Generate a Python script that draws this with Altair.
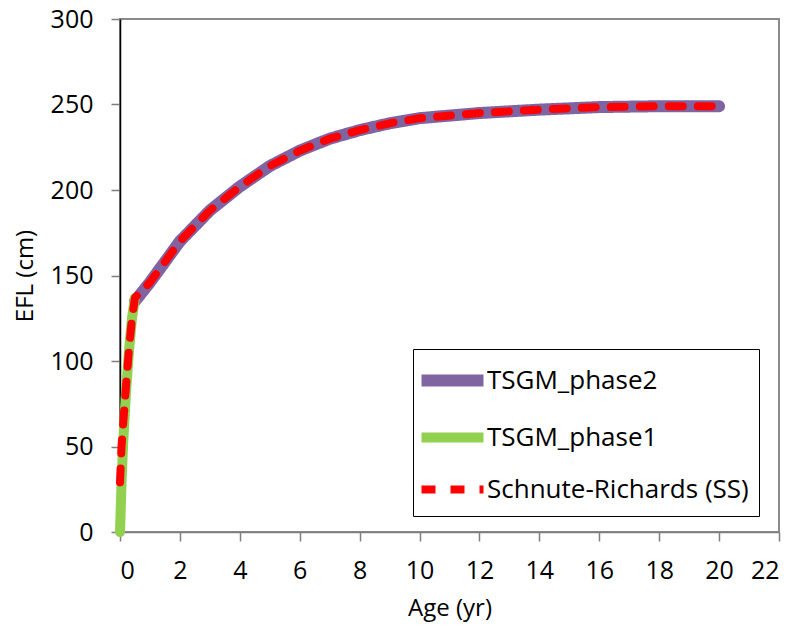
import altair as alt
import pandas as pd

# ---- data ----
series_names = ["TSGM_phase2", "TSGM_phase1", "Schnute-Richards (SS)"]

phase2_age = [0.5, 1, 1.5, 2, 3, 4, 5, 6, 7, 8, 9, 10, 12, 14, 16, 18, 20]
phase2_efl = [135, 146, 158, 170, 188, 202, 214, 223, 230, 235, 239, 242, 245, 247, 248.5, 249, 249]

phase1_age = [0, 0.05, 0.1, 0.2, 0.3, 0.4, 0.5]
phase1_efl = [0, 28, 50, 82, 106, 125, 137]

ss_age = [0, 0.05, 0.1, 0.2, 0.3, 0.4, 0.5, 1, 1.5, 2, 3, 4, 5, 6, 7, 8, 9, 10, 12, 14, 16, 18, 20]
ss_efl = [29, 50, 62, 85, 107, 125, 137, 146, 158, 170, 188, 202, 214, 223, 230, 235, 239, 242, 245, 247, 248.5, 249, 249]

x_ticks = list(range(0, 23, 2))
y_ticks = [0, 50, 100, 150, 200, 250, 300]

colors = ["#8064A2", "#92D050", "#FF0000"]
widths = [12, 8, 6.5]
dashes = [[1, 0], [1, 0], [14, 15]]

rows = []
for a, v in zip(phase2_age, phase2_efl):
    rows.append({"series": series_names[0], "age": a, "efl": v})
for a, v in zip(phase1_age, phase1_efl):
    rows.append({"series": series_names[1], "age": a, "efl": v})
for a, v in zip(ss_age, ss_efl):
    rows.append({"series": series_names[2], "age": a, "efl": v})
df = pd.DataFrame(rows)

FONT = "Open Sans"

legend = alt.Legend(
    title=None, orient="none", legendX=293, legendY=330,
    strokeColor="#000000", fillColor="#ffffff", padding=10,
    symbolType="M-2,0H2", symbolSize=961, labelFontSize=26, labelFont=FONT,
    labelColor="#000000", rowPadding=12, labelOffset=13, symbolOffset=8, labelLimit=400,
)

color = alt.Color("series:N", scale=alt.Scale(domain=series_names, range=colors), legend=legend)
sw = alt.StrokeWidth("series:N", scale=alt.Scale(domain=series_names, range=widths), legend=legend)
sd = alt.StrokeDash("series:N", scale=alt.Scale(domain=series_names, range=dashes), legend=legend)

x = alt.X("age:Q", scale=alt.Scale(domain=[0, 22], nice=False),
          axis=alt.Axis(title="Age (yr)", values=x_ticks, domainColor="#7f7f7f", tickColor="#7f7f7f",
                        labelPadding=17, titleX=329.5, titleY=76, titleBaseline="middle"))
y = alt.Y("efl:Q", scale=alt.Scale(domain=[0, 300], nice=False),
          axis=alt.Axis(title="EFL (cm)", values=y_ticks, domainColor="#000000", tickColor="#7f7f7f",
                        labelPadding=18,
                        titleX=-95, titleY=256.5, titleAngle=270, titleAlign="center", titleBaseline="middle"))

layers = []
for name in series_names:
    layers.append(
        alt.Chart(df).transform_filter(alt.datum.series == name)
        .mark_line(strokeCap="round", strokeJoin="round")
        .encode(x=x, y=y, color=color, strokeWidth=sw, strokeDash=sd)
    )

chart = alt.layer(*layers).properties(
    width=659, height=513,
    background="#ffffff",
    autosize=alt.AutoSizeParams(type="none"),
    padding={"left": 120, "top": 19, "right": 15, "bottom": 95},
).configure_view(
    stroke="#8a8a8a", strokeWidth=2
).configure_axis(
    grid=False, labelFont=FONT, titleFont=FONT, labelFontSize=25, titleFontSize=24,
    labelColor="#000000", titleColor="#000000", titleFontWeight="normal",
    tickSize=9, domainWidth=1.5, tickWidth=1.5,
)

chart.save("out.html", embed_options={"renderer": "svg", "actions": False})
